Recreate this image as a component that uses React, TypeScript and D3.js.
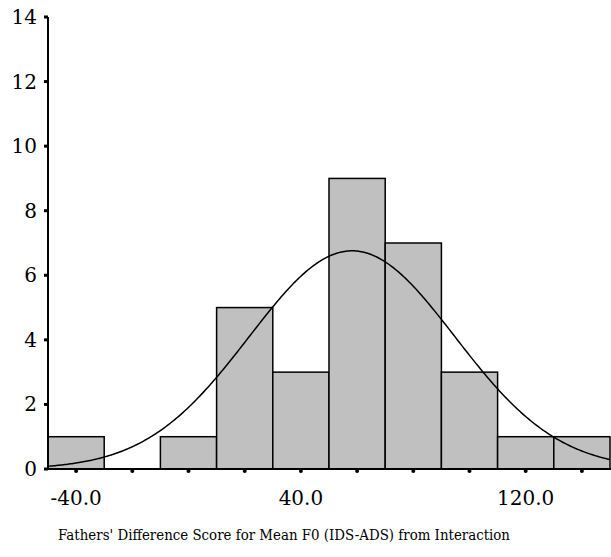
import React from "react";
import * as d3 from "d3";

const binCenters = [-40, -20, 0, 20, 40, 60, 80, 100, 120, 140];
const counts = [1, 0, 1, 5, 3, 9, 7, 3, 1, 1];
const yTicks = [0, 2, 4, 6, 8, 10, 12, 14];
const xTickLabels = [-40, 40, 120];
const binWidth = 20;
const curveMean = 58.2;
const curveSD = 36.6;
const xTitle = "Fathers' Difference Score for Mean F0 (IDS-ADS) from Interaction";

export default function App() {
  const W = 611, H = 557;
  const x = d3.scaleLinear().domain([-50, 150]).range([48, 610]);
  const y = d3.scaleLinear().domain([0, 14]).range([469, 17]);
  const N = d3.sum(counts);
  const norm = (v: number) =>
    (N * binWidth) / (curveSD * Math.sqrt(2 * Math.PI)) *
    Math.exp(-0.5 * ((v - curveMean) / curveSD) ** 2);
  const pts = d3.range(-50, 150.01, 0.5).map((v) => [v, norm(v)] as [number, number]);
  const line = d3.line<[number, number]>().x((d) => x(d[0])).y((d) => y(d[1]));
  const tStyle = { fontFamily: '"DejaVu Serif", "Noto Serif", serif' };
  return (
    <svg width={W} height={H} style={{ position: "absolute", left: 0, top: 0, background: "#fff" }}>
      {binCenters.map((c, i) =>
        counts[i] > 0 ? (
          <rect key={i} x={x(c - binWidth / 2)} y={y(counts[i])}
            width={x(c + binWidth / 2) - x(c - binWidth / 2)} height={y(0) - y(counts[i])}
            fill="#c0c0c0" stroke="#000" strokeWidth={1.5} />
        ) : null
      )}
      <path d={line(pts) || ""} fill="none" stroke="#000" strokeWidth={1.5} />
      <line x1={48} x2={48} y1={y(14)} y2={y(0)} stroke="#000" strokeWidth={2} />
      <line x1={47} x2={611} y1={y(0)} y2={y(0)} stroke="#000" strokeWidth={2} />
      {yTicks.map((t) => (
        <g key={t}>
          <rect x={44} y={y(t) - 1.5} width={4} height={3} fill="#000" />
          <text x={37} y={y(t) + 7} textAnchor="end" style={tStyle} fontSize={20} fill="#000">{t}</text>
        </g>
      ))}
      {binCenters.map((c) => (
        <circle key={c} cx={x(c)} cy={y(0) + 2} r={2} fill="#000" />
      ))}
      {xTickLabels.map((t) => (
        <text key={t} x={x(t)} y={505} textAnchor="middle" style={tStyle} fontSize={20} fill="#000">{t.toFixed(1)}</text>
      ))}
      <text x={58} y={540} style={tStyle} fontSize={14} fill="#000"
        textLength={452} lengthAdjust="spacingAndGlyphs">{xTitle}</text>
    </svg>
  );
}
